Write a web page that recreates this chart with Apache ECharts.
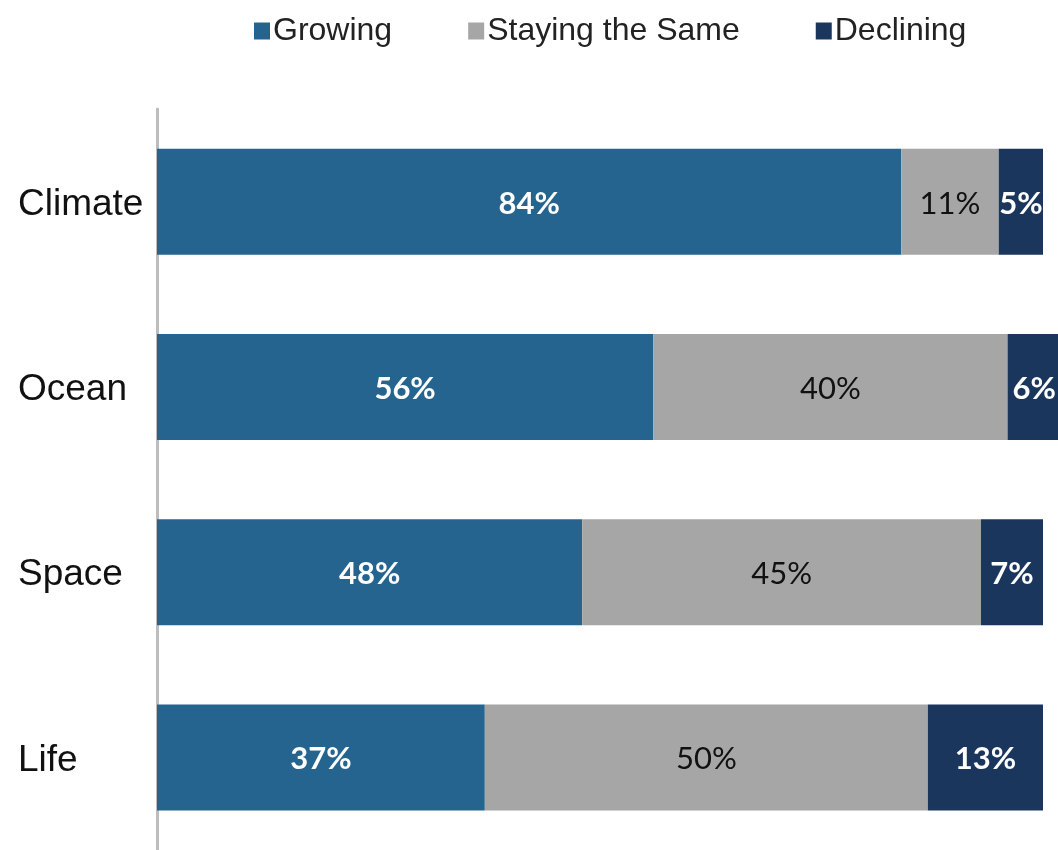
<!DOCTYPE html>
<html>
<head>
<meta charset="utf-8">
<style>
  html, body { margin: 0; padding: 0; background: #ffffff; }
  #chart { width: 1058px; height: 850px; }
</style>
<script src="https://cdn.jsdelivr.net/npm/echarts@6/dist/echarts.min.js"></script>
</head>
<body>
<div id="chart"></div>
<script>
// Share of respondents by field outlook
const categories = ['Climate', 'Ocean', 'Space', 'Life'];
const growing = [84, 56, 48, 37];
const stayingSame = [11, 40, 45, 50];
const declining = [5, 6, 7, 13];

const chart = echarts.init(document.getElementById('chart'));

const labelFont = 'Lato, "Open Sans", sans-serif';

function barSeries(name, data, color, labelColor, weight) {
  return {
    name: name,
    type: 'bar',
    stack: 'total',
    data: data,
    barWidth: 106,
    clip: false,
    itemStyle: { color: color },
    label: {
      show: true,
      position: 'inside',
      formatter: '{c}%',
      color: labelColor,
      fontFamily: labelFont,
      fontWeight: weight,
      fontSize: 31,
      offset: [0, 2]
    },
    emphasis: { disabled: true }
  };
}

chart.setOption({
  animation: false,
  legend: {
    left: 249,
    top: 10,
    itemWidth: 16,
    itemHeight: 17,
    itemGap: 76,
    icon: 'rect',
    textStyle: {
      fontFamily: '"Liberation Sans", Arial, sans-serif',
      fontSize: 32,
      color: '#222222',
      padding: [0, 0, 0, -2]
    },
    data: ['Growing', 'Staying the Same', 'Declining']
  },
  grid: { left: 157, right: 15, top: 109, height: 745, containLabel: false },
  xAxis: {
    type: 'value',
    min: 0,
    max: 100,
    show: false
  },
  yAxis: {
    type: 'category',
    data: categories,
    inverse: true,
    axisLine: { show: true, lineStyle: { color: '#BDBDBD', width: 3 } },
    axisTick: { show: false },
    axisLabel: {
      margin: 139,
      align: 'left',
      formatter: '{name|{value}}',
      rich: {
        name: {
          color: '#111111',
          fontFamily: '"Liberation Sans", Arial, sans-serif',
          fontSize: 37,
          padding: [6, 0, 0, 0]
        }
      }
    }
  },
  series: [
    barSeries('Growing', growing, '#25648E', '#ffffff', 'bold'),
    barSeries('Staying the Same', stayingSame, '#A6A6A6', '#111111', 'normal'),
    barSeries('Declining', declining, '#1B365D', '#ffffff', 'bold')
  ]
});
</script>
</body>
</html>
